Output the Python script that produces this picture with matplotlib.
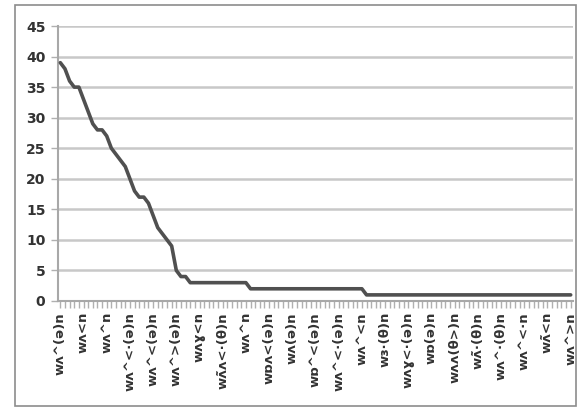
import matplotlib
matplotlib.use("Agg")
import matplotlib.pyplot as plt
from matplotlib.patches import Rectangle
import numpy as np

# Sorted counts for each of 111 transcription variants (descending)
values = [39, 38, 36, 35, 35, 33, 31, 29, 28, 28,
          27, 25, 24, 23, 22, 20, 18, 17, 17, 16,
          14, 12, 11, 10, 9, 5, 4, 4, 3, 3,
          3, 3, 3, 3, 3, 3, 3, 3, 3, 3,
          3, 2, 2, 2, 2, 2, 2, 2, 2, 2,
          2, 2, 2, 2, 2, 2, 2, 2, 2, 2,
          2, 2, 2, 2, 2, 2, 1, 1, 1, 1,
          1, 1, 1, 1, 1, 1, 1, 1, 1, 1,
          1, 1, 1, 1, 1, 1, 1, 1, 1, 1,
          1, 1, 1, 1, 1, 1, 1, 1, 1, 1,
          1, 1, 1, 1, 1, 1, 1, 1, 1, 1,
          1]

# Labels shown on every 5th category
tick_labels = ["wʌ^(ə)n", "wʌ<n", "wʌ^n", "wʌ^<·(ə)n", "wʌ^<(ə)n",
               "wʌ^>(ə)n", "wʌɣ<n", "wʌ̃ʌ<·(θ)n", "wʌ^n", "wɒʌ<(ə)n",
               "wʌ(ə)n", "wɒ^<(ə)n", "wʌ^<·(ə)n", "wʌ^<n", "wɜ·(θ)n",
               "wʌɣ<·(ə)n", "wɒ(ə)n", "wʌʌ(θ>)n", "wʌ̃·(θ)n", "wʌ^·(θ)n",
               "wʌ^<·n", "wʌ̃<n", "wʌ^>n"]
label_step = 5

yticks = [0, 5, 10, 15, 20, 25, 30, 35, 40, 45]

W, H = 578, 409
fig = plt.figure(figsize=(W / 100, H / 100), dpi=100)
fig.patch.set_facecolor("white")

ax = fig.add_axes([58 / W, (H - 301) / H, (573 - 58) / W, (301 - 26) / H])

x = np.arange(len(values))
ax.plot(x, values, color="#505050", lw=2.6, solid_joinstyle="round",
        solid_capstyle="round", zorder=3)

ax.set_xlim(-0.5, len(values) - 0.5)
ax.set_ylim(0, 45)
ax.set_yticks(yticks)
ax.set_yticklabels([str(v) for v in yticks], fontsize=10, color="#333333",
                   fontweight="bold")

ax.grid(axis="y", color="#c8c8c8", lw=1.8, zorder=1)
ax.set_axisbelow(True)

major = np.arange(0, len(values), label_step)
ax.set_xticks(major)
ax.set_xticklabels(tick_labels, rotation=90, fontsize=9.5, color="#333333",
                   fontweight="bold")
ax.set_xticks(x, minor=True)

for s in ["top", "right"]:
    ax.spines[s].set_visible(False)
for s in ["left", "bottom"]:
    ax.spines[s].set_color("#a8a8a8")
    ax.spines[s].set_linewidth(1.5)

ax.tick_params(axis="x", which="both", direction="out", length=5,
               color="#b0b0b0", width=1, pad=3)
ax.tick_params(axis="y", direction="out", length=5, color="#b0b0b0",
               width=1, pad=4)

border = Rectangle((15 / W, 3 / H), (576 - 15) / W, (404 - 3) / H,
                   transform=fig.transFigure, fill=False,
                   edgecolor="#8c8c8c", lw=1.2)
fig.patches.append(border)

fig.savefig("out.png", dpi=100)
